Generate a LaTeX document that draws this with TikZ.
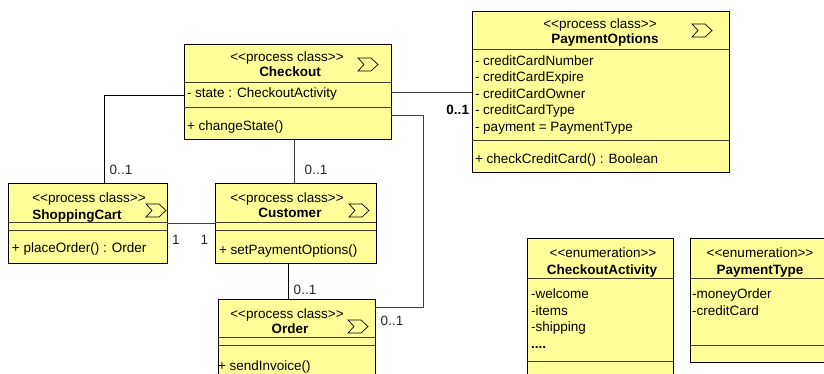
\documentclass[tikz,border=0pt]{standalone}
\usepackage{fontspec}
\setmainfont{Liberation Sans}
\usetikzlibrary{positioning}
\definecolor{classfill}{HTML}{FFFF99}
\definecolor{assocgray}{HTML}{404040}
\tikzset{
  umlbox/.style={draw=black, fill=classfill, line width=0.9pt, inner sep=0pt, outer sep=0pt, anchor=north west},
  sepline/.style={draw=black!75!classfill, line width=0.8pt},
  assoc/.style={draw=assocgray, line width=0.8pt},
  txt/.style={inner sep=0pt, outer sep=0pt, text height=12pt, text depth=2pt, font=\fontsize{13.5}{16.5}\selectfont},
  titletxt/.style={txt, font=\fontsize{13.5}{16.5}\selectfont\bfseries},
  member/.style={txt, anchor=west},
  memberlist/.style={inner sep=0pt, outer sep=0pt, anchor=north west, align=left, font=\fontsize{13.5}{16.55}\selectfont},
  mult/.style={txt, text=black!85},
  procicon/.pic={
    \draw[line width=0.7pt, fill=classfill] (0,0) -- (13,0) -- (20,6.5) -- (13,13) -- (0,13) -- (6,6.5) -- cycle;
  }
}
\begin{document}
\begin{tikzpicture}[x=1pt, y=-1pt]
  \useasboundingbox (0,0) rectangle (824,374);
  \clip (0,0) rectangle (824,374);

  % classes
  \node[umlbox, minimum width=207pt, minimum height=95pt] (checkout) at (184,44) {};
  \node[umlbox, minimum width=161pt, minimum height=80pt, below right=44pt and 31pt of checkout.south west] (customer) {};
  \node[umlbox, minimum width=159pt, minimum height=80pt, left=48pt of customer.north west, anchor=north east] (cart) {};
  \node[umlbox, minimum width=157pt, minimum height=95pt, below right=36pt and 3pt of customer.south west] (order) {};
  \node[umlbox, minimum width=257pt, minimum height=161pt] (payment) at (472,11) {};
  \node[umlbox, minimum width=146pt, minimum height=150pt] (activity) at (527,238) {};
  \node[umlbox, minimum width=150pt, minimum height=124pt, right=17pt of activity.north east, anchor=north west] (paytype) {};

  % compartments
  \foreach \cls/\first/\second in {checkout/38/63, cart/39/47, customer/39/47, order/38/46, payment/38/129, activity/40/123, paytype/40/107} {
    \draw[sepline] ([yshift=-\first pt]\cls.north west) -- ([yshift=-\first pt]\cls.north east);
    \draw[sepline] ([yshift=-\second pt]\cls.north west) -- ([yshift=-\second pt]\cls.north east);
  }

  % connectors
  \draw[assoc, draw=black] ([yshift=-51pt]checkout.north west) -| ([xshift=96pt]cart.north west);
  \draw[assoc] ([xshift=110pt]checkout.south west) -- ([xshift=79pt]customer.north west);
  \draw[assoc] ([yshift=-48pt]checkout.north east) -- ([yshift=-81pt]payment.north west);
  \draw[assoc] ([yshift=-71pt]checkout.north east) -- ++(32,0) |- ([yshift=-8pt]order.north east);
  \draw[assoc] ([yshift=-40pt]cart.north east) -- ([yshift=-40pt]customer.north west);
  \draw[assoc, draw=black] ([xshift=73pt]customer.south west) -- ([xshift=70pt]order.north west);

  % process icons
  \pic at (358,58) {procicon};
  \pic at (146,204) {procicon};
  \pic at (349,204) {procicon};
  \pic at (348,320) {procicon};
  \pic at (692,24) {procicon};

  % texts
  \node[txt] (checkoutstereo) at (287,57) {<{}<process class>{}>};
  \node[titletxt] (checkouttitle) at (290,72) {Checkout};
  \node[member] (checkoutattr) at (187,93) {- state : CheckoutActivity};
  \node[member] (checkoutop) at (187,126) {+ changeState()};

  \node[txt] (cartstereo) at (89,197) {<{}<process class>{}>};
  \node[titletxt] (carttitle) at (77,214) {ShoppingCart};
  \node[member] (cartop) at (12,247) {+ placeOrder() : Order};

  \node[txt] (customerstereo) at (287,197) {<{}<process class>{}>};
  \node[titletxt] (customertitle) at (290,212) {Customer};
  \node[member] (customerop) at (219,249) {+ setPaymentOptions()};

  \node[txt] (orderstereo) at (287,313) {<{}<process class>{}>};
  \node[titletxt] (ordertitle) at (290,328) {Order};
  \node[member] (orderop) at (218,365) {+ sendInvoice()};

  \node[txt] (paymentstereo) at (600,24) {<{}<process class>{}>};
  \node[titletxt] (paymenttitle) at (605,39) {PaymentOptions};
  \node[memberlist] (paymentattr) at (475,55.5) {- creditCardNumber\\- creditCardExpire\\- creditCardOwner\\- creditCardType\\- payment = PaymentType};
  \node[member] (paymentop) at (475,159) {+ checkCreditCard() : Boolean};

  \node[txt] (activitystereo) at (603,252) {<{}<enumeration>{}>};
  \node[titletxt] (activitytitle) at (602,269) {CheckoutActivity};
  \node[memberlist] (activitylist) at (531,289) {-welcome\\-items\\-shipping\\\textbf{....}};

  \node[txt] (paytypestereo) at (760,252) {<{}<enumeration>{}>};
  \node[titletxt] (paytypetitle) at (760,269) {PaymentType};
  \node[memberlist] (paytypelist) at (692,289) {-moneyOrder\\-creditCard};

  % multiplicities
  \node[mult] (cartmult) at (121,170) {0..1};
  \node[mult] (customermult) at (316,170) {0..1};
  \node[mult] (cartone) at (176,239) {1};
  \node[mult] (customerone) at (204.5,239) {1};
  \node[mult] (ordermult) at (305,289) {0..1};
  \node[mult] (ordermulttwo) at (392,320) {0..1};
  \node[titletxt, anchor=east] (paymentmult) at (469,110) {0..1};
\end{tikzpicture}
\end{document}
